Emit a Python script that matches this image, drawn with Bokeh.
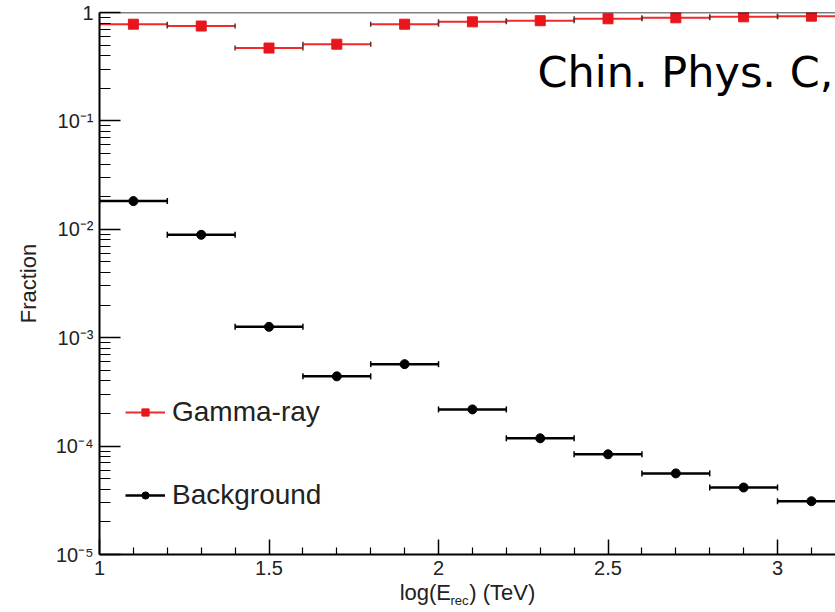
import numpy as np
from bokeh.plotting import figure
from bokeh.models import (FixedTicker, CustomJSTickFormatter, Legend, LegendItem,
                          Label, Span, ColumnDataSource, LinearAxis)
from bokeh.embed import file_html
from bokeh.resources import INLINE

# ---- data ----
energy_bins = [1.1, 1.3, 1.5, 1.7, 1.9, 2.1, 2.3, 2.5, 2.7, 2.9, 3.1]
bin_half_width = [0.1, 0.1, 0.1, 0.1, 0.1, 0.1, 0.1, 0.1, 0.1, 0.1, 0.1]
gamma_fraction = [0.78, 0.75, 0.47, 0.51, 0.78, 0.82, 0.84, 0.875, 0.893, 0.912, 0.925]
background_fraction = [0.0182, 0.0089, 0.00126, 0.00044, 0.00057, 0.000218,
                       0.000118, 8.4e-5, 5.6e-5, 4.15e-5, 3.1e-5]
x_major_ticks = [1, 1.5, 2, 2.5, 3]
y_major_ticks = [1e-5, 1e-4, 1e-3, 1e-2, 1e-1, 1]

RED = "#e8161c"
RED_LINE = "#ee2a2a"
FONT = "Liberation Sans"
TXT = "#222222"

x = np.array(energy_bins)
hw = np.array(bin_half_width)

gsrc = ColumnDataSource(dict(x=x, y=gamma_fraction, x0=x - hw, x1=x + hw))
bsrc = ColumnDataSource(dict(x=x, y=background_fraction, x0=x - hw, x1=x + hw))

p = figure(width=835, height=610, x_range=(1, 3.171), y_range=(1e-5, 1),
           y_axis_type="log", output_backend="svg", toolbar_location=None,
           min_border_left=99, min_border_right=0, min_border_top=12,
           min_border_bottom=56)
p.outline_line_color = None
p.xgrid.visible = False
p.ygrid.visible = False
p.background_fill_color = "white"
p.border_fill_color = "white"

# top frame line
p.add_layout(Span(location=1, dimension="width", line_color="black", line_width=1.5))

# gamma-ray
g_seg = p.segment(x0="x0", y0="y", x1="x1", y1="y", source=gsrc,
                  line_color=RED_LINE, line_width=2)
p.scatter(x="x0", y="y", source=gsrc, marker="dash", angle=np.pi / 2, size=5,
          line_color="#553333", line_width=1.5)
p.scatter(x="x1", y="y", source=gsrc, marker="dash", angle=np.pi / 2, size=5,
          line_color="#553333", line_width=1.5)
g_sc = p.scatter(x="x", y="y", source=gsrc, marker="square", size=10,
                 fill_color=RED, line_color=RED)

# background
b_seg = p.segment(x0="x0", y0="y", x1="x1", y1="y", source=bsrc,
                  line_color="black", line_width=2.5)
p.scatter(x="x0", y="y", source=bsrc, marker="dash", angle=np.pi / 2, size=6,
          line_color="black", line_width=1.5)
p.scatter(x="x1", y="y", source=bsrc, marker="dash", angle=np.pi / 2, size=6,
          line_color="black", line_width=1.5)
b_sc = p.scatter(x="x", y="y", source=bsrc, marker="circle", size=9,
                 fill_color="black", line_color="black")

# axes
minor_x = [round(1 + 0.1 * i, 1) for i in range(0, 22)]
minor_x = [v for v in minor_x if v not in x_major_ticks]
p.xaxis.ticker = FixedTicker(ticks=x_major_ticks, minor_ticks=minor_x)
minor_y = [k * 10.0 ** e for e in range(-5, 0) for k in range(2, 10)]
p.yaxis.ticker = FixedTicker(ticks=y_major_ticks, minor_ticks=minor_y)
p.yaxis.formatter = CustomJSTickFormatter(code="""
const e = Math.round(Math.log10(tick));
if (e == 0) { return "1"; }
const sup = {"-": "\u207b", "0": "\u2070", "1": "\u00b9", "2": "\u00b2", "3": "\u00b3",
             "4": "\u2074", "5": "\u2075", "6": "\u2076", "7": "\u2077", "8": "\u2078", "9": "\u2079"};
return "10" + String(e).split("").map(c => sup[c]).join("");
""")

for ax in (p.xaxis[0], p.yaxis[0]):
    ax.axis_line_color = "black"
    ax.axis_line_width = 2
    ax.major_tick_out = 0
    ax.minor_tick_out = 0
    ax.major_tick_line_color = "black"
    ax.minor_tick_line_color = "black"
    ax.major_tick_line_width = 1.5
    ax.minor_tick_line_width = 1.2
    ax.major_label_text_font = FONT
    ax.major_label_text_font_size = "20px"
    ax.major_label_text_color = TXT
    ax.major_label_standoff = 6

p.yaxis.major_tick_in = 21
p.yaxis.minor_tick_in = 11
p.xaxis.major_tick_in = 15
p.xaxis.minor_tick_in = 7

p.yaxis.axis_label = "Fraction"
p.yaxis.axis_label_text_font = FONT
p.yaxis.axis_label_text_font_size = "22px"
p.yaxis.axis_label_text_font_style = "normal"
p.yaxis.axis_label_text_color = TXT
p.yaxis.axis_label_standoff = 12

# x-axis title; the gap leaves room for the subscript "rec"
p.xaxis.axis_label = "log(E\u00a0\u00a0\u00a0) (TeV)"
p.xaxis.axis_label_text_font = FONT
p.xaxis.axis_label_text_font_size = "22px"
p.xaxis.axis_label_text_font_style = "normal"
p.xaxis.axis_label_text_color = TXT
p.xaxis.axis_label_standoff = 2

# subscript of the x-axis title, drawn as the label of a bare helper axis
sub_axis = LinearAxis(ticker=FixedTicker(ticks=[2.062], minor_ticks=[]),
                      formatter=CustomJSTickFormatter(code="return 'rec';"),
                      axis_line_color=None, major_tick_line_color=None,
                      minor_tick_line_color=None, major_label_standoff=-21,
                      major_label_text_font=FONT, major_label_text_font_size="13px",
                      major_label_text_color=TXT)
p.add_layout(sub_axis, "below")

# overlay citation text
p.add_layout(Label(x=2.292, y=0.28, text="Chin. Phys. C,", text_align="left",
                   text_baseline="alphabetic", text_font="DejaVu Sans",
                   text_font_size="43px", text_color="black"))

legend = Legend(items=[LegendItem(label="Gamma-ray", renderers=[g_seg, g_sc]),
                       LegendItem(label="Background", renderers=[b_seg, b_sc])],
                location=(26, 43), glyph_width=40, glyph_height=18,
                label_height=18, spacing=51, padding=0, margin=0,
                border_line_alpha=0, background_fill_alpha=0, label_standoff=7,
                label_text_font=FONT, label_text_font_size="28px",
                label_text_color=TXT)
p.add_layout(legend)

open("out.html", "w").write(file_html(p, INLINE))
